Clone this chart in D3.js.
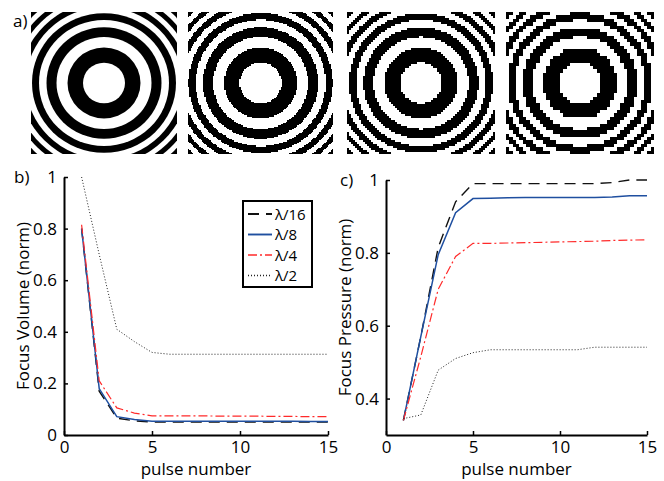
<!DOCTYPE html>
<html>
<head>
<meta charset="utf-8">
<script src="https://cdn.jsdelivr.net/npm/d3@7"></script>
<style>
body { margin: 0; background: #fff; }
text { font-family: "Open Sans", sans-serif; fill: #000; }
</style>
</head>
<body>
<div id="container"></div>
<script>
const WIDTH = 664;
const HEIGHT = 481;

// ring pattern: boundary radii (px) read off panel a), inner disk is white
const RING_EDGES = [21, 36.5, 47.5, 57.5, 65, 72, 78, 84, 89, 94, 99, 104, 108];
const IMAGE_LEFT = [31, 188, 347, 506];
const IMAGE_WIDTH = [146, 145, 148, 148];
const IMAGE_CELLS = [0, 116, 74, 44]; // 0 = smooth
const IMAGE_TOP = 12;
const IMAGE_HEIGHT = 142;

// curves
const PULSES = [1, 2, 3, 4, 5, 6, 7, 8, 9, 10, 11, 12, 13, 14, 15];
const SERIES_NAMES = ["λ/16", "λ/8", "λ/4", "λ/2"];

const VOLUME_L16 = [0.80, 0.17, 0.065, 0.055, 0.050, 0.050, 0.050, 0.050, 0.050, 0.050, 0.050, 0.050, 0.050, 0.050, 0.050];
const VOLUME_L8 = [0.80, 0.18, 0.071, 0.060, 0.053, 0.053, 0.053, 0.053, 0.053, 0.053, 0.053, 0.053, 0.053, 0.052, 0.052];
const VOLUME_L4 = [0.815, 0.21, 0.105, 0.085, 0.074, 0.074, 0.074, 0.074, 0.073, 0.073, 0.073, 0.072, 0.072, 0.071, 0.071];
const VOLUME_L2 = [1.0, 0.70, 0.41, 0.362, 0.32, 0.313, 0.313, 0.313, 0.313, 0.313, 0.313, 0.313, 0.313, 0.313, 0.313];

const PRESSURE_L16 = [0.34, 0.57, 0.815, 0.94, 0.99, 0.99, 0.99, 0.99, 0.99, 0.99, 0.99, 0.99, 0.993, 1.0, 1.0];
const PRESSURE_L8 = [0.34, 0.57, 0.795, 0.91, 0.949, 0.95, 0.951, 0.952, 0.952, 0.952, 0.952, 0.952, 0.953, 0.957, 0.957];
const PRESSURE_L4 = [0.34, 0.515, 0.70, 0.79, 0.826, 0.826, 0.827, 0.828, 0.829, 0.830, 0.831, 0.832, 0.834, 0.835, 0.836];
const PRESSURE_L2 = [0.345, 0.355, 0.478, 0.51, 0.526, 0.534, 0.534, 0.534, 0.534, 0.534, 0.534, 0.541, 0.541, 0.541, 0.541];

const VOLUME_TICKS = [0, 0.2, 0.4, 0.6, 0.8, 1];
const PRESSURE_TICKS = [0.4, 0.6, 0.8, 1];
const X_TICKS = [0, 5, 10, 15];

var styles = [
    {color: "#111", width: 1.4, dash: "11,7"},
    {color: "#1f4fa0", width: 1.5, dash: null},
    {color: "#ff2a2a", width: 1.2, dash: "9,3,2,3"},
    {color: "#222", width: 1, dash: "1,2"}
];

var svg = d3.select("#container").append("svg")
    .attr("width", WIDTH)
    .attr("height", HEIGHT);

var panelLabel = function (x, y, txt) {
    svg.append("text").attr("x", x).attr("y", y)
        .attr("font-size", 17).text(txt);
};

// ---- panel a: ring images ----
var defs = svg.append("defs");
var ringColor = function (r) {
    return d3.bisectRight(RING_EDGES, r) % 2 === 1 ? "#000" : "#fff";
};

IMAGE_LEFT.forEach(function (left, i) {
    var w = IMAGE_WIDTH[i];
    var cx = left + w / 2, cy = IMAGE_TOP + IMAGE_HEIGHT / 2;
    var g = svg.append("g");
    if (IMAGE_CELLS[i] === 0) {
        defs.append("clipPath").attr("id", "clip" + i)
            .append("rect").attr("x", left).attr("y", IMAGE_TOP)
            .attr("width", w).attr("height", IMAGE_HEIGHT);
        g.attr("clip-path", "url(#clip" + i + ")");
        g.append("rect").attr("x", left).attr("y", IMAGE_TOP)
            .attr("width", w).attr("height", IMAGE_HEIGHT)
            .attr("fill", ringColor(1000));
        g.selectAll("ellipse").data(RING_EDGES.slice().reverse()).enter()
            .append("ellipse")
            .attr("cx", cx).attr("cy", cy)
            .attr("rx", d => d).attr("ry", d => d * 0.97)
            .attr("fill", d => ringColor(d - 0.01));
    } else {
        var n = IMAGE_CELLS[i];
        var sx = d3.scaleLinear().domain([0, n]).range([left, left + w]);
        var ny = Math.round(n * IMAGE_HEIGHT / w);
        var sy = d3.scaleLinear().domain([0, ny]).range([IMAGE_TOP, IMAGE_TOP + IMAGE_HEIGHT]);
        var runs = [];
        for (var row = 0; row < ny; row++) {
            var start = -1;
            for (var col = 0; col <= n; col++) {
                var black = false;
                if (col < n) {
                    var dx = sx(col + 0.5) - cx;
                    var dy = (sy(row + 0.5) - cy) / 0.97;
                    black = ringColor(Math.sqrt(dx * dx + dy * dy)) === "#000";
                }
                if (black && start < 0) start = col;
                if (!black && start >= 0) {
                    runs.push({row: row, c0: start, c1: col});
                    start = -1;
                }
            }
        }
        g.selectAll("rect").data(runs).enter().append("rect")
            .attr("x", d => sx(d.c0))
            .attr("y", d => sy(d.row))
            .attr("width", d => sx(d.c1) - sx(d.c0))
            .attr("height", d => sy(d.row + 1) - sy(d.row))
            .attr("fill", "#000")
            .attr("shape-rendering", "crispEdges");
    }
});
panelLabel(13, 27, "a)");

// ---- line panels ----
var drawPanel = function (opts) {
    var x = d3.scaleLinear().domain([0, 15]).range([opts.left, opts.right]);
    var y = d3.scaleLinear().domain(opts.yDomain).range([opts.bottom, opts.top]);
    var g = svg.append("g");

    var line = d3.line().x((d, i) => x(PULSES[i])).y(d => y(d));
    opts.series.forEach(function (values, k) {
        g.append("path").datum(values)
            .attr("d", line)
            .attr("fill", "none")
            .attr("stroke", styles[k].color)
            .attr("stroke-width", styles[k].width)
            .attr("stroke-dasharray", styles[k].dash);
    });

    var yAxis = d3.axisLeft(y).tickValues(opts.yTicks)
        .tickFormat(d3.format("~g")).tickSizeInner(-4).tickSizeOuter(0).tickPadding(7);
    var xAxis = d3.axisBottom(x).tickValues(X_TICKS)
        .tickSizeInner(-4).tickSizeOuter(0).tickPadding(6);

    var ya = g.append("g").attr("transform", "translate(" + opts.left + ",0)").call(yAxis);
    var xa = g.append("g").attr("transform", "translate(0," + opts.bottom + ")").call(xAxis);
    [ya, xa].forEach(function (a) {
        a.select(".domain").attr("stroke", "#000").attr("stroke-width", 2);
        a.selectAll(".tick line").attr("stroke", "#000").attr("stroke-width", 1.5);
        a.selectAll(".tick text").attr("font-size", 17)
            .attr("font-family", "'Open Sans', sans-serif").attr("fill", "#000");
    });

    g.append("text")
        .attr("x", (opts.left + opts.right) / 2).attr("y", 475)
        .attr("text-anchor", "middle").attr("font-size", 17)
        .text("pulse number");
    g.append("text")
        .attr("transform", "translate(" + opts.ylabelX + "," + (opts.top + opts.bottom) / 2 + ") rotate(-90)")
        .attr("text-anchor", "middle").attr("font-size", 17)
        .text(opts.ylabel);
};

drawPanel({
    left: 64, right: 328, top: 177, bottom: 435,
    yDomain: [0, 1], yTicks: VOLUME_TICKS,
    series: [VOLUME_L16, VOLUME_L8, VOLUME_L4, VOLUME_L2],
    ylabel: "Focus Volume (norm)", ylabelX: 29
});
drawPanel({
    left: 386, right: 647, top: 180, bottom: 435,
    yDomain: [0.3, 1], yTicks: PRESSURE_TICKS,
    series: [PRESSURE_L16, PRESSURE_L8, PRESSURE_L4, PRESSURE_L2],
    ylabel: "Focus Pressure (norm)", ylabelX: 351
});
panelLabel(14, 183, "b)");
panelLabel(340, 186, "c)");

// ---- legend ----
var legend = svg.append("g").attr("transform", "translate(243,201)");
legend.append("rect").attr("width", 69).attr("height", 86)
    .attr("fill", "#fff").attr("stroke", "#000").attr("stroke-width", 2);
var items = legend.selectAll(".item").data(SERIES_NAMES).enter()
    .append("g").attr("class", "item")
    .attr("transform", (d, i) => "translate(0," + (13 + i * 20.5) + ")");
items.append("line")
    .attr("x1", 5).attr("x2", 29)
    .attr("stroke", (d, i) => styles[i].color)
    .attr("stroke-width", (d, i) => styles[i].width + 0.4)
    .attr("stroke-dasharray", (d, i) => styles[i].dash);
items.append("text").attr("x", 32).attr("y", 5.5)
    .attr("font-size", 15).text(d => d);
</script>
</body>
</html>
